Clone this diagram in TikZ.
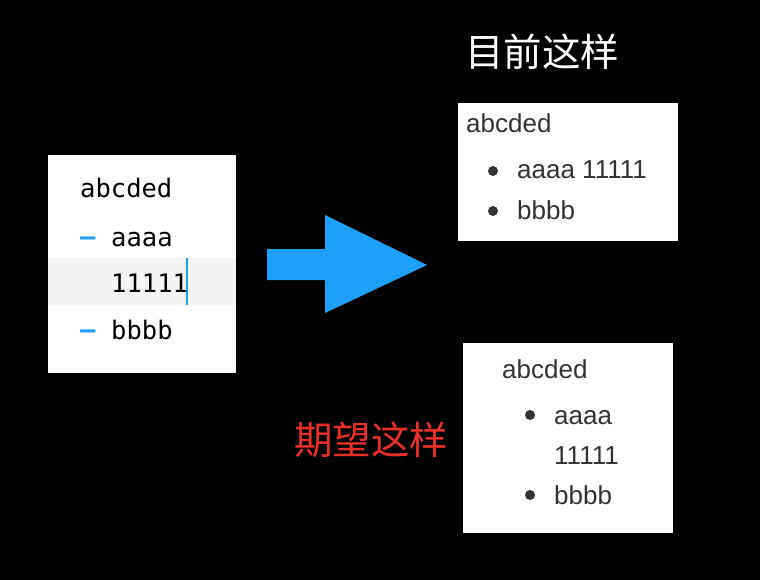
\documentclass[tikz,border=0pt]{standalone}
\usepackage{fontspec}
\setmainfont{Liberation Sans}
\setmonofont{DejaVu Sans Mono}
\newfontfamily\cjkfont{Noto Sans CJK SC}
\definecolor{arrowblue}{RGB}{30,160,250}
\definecolor{rowgray}{RGB}{245,245,245}
\definecolor{textgray}{RGB}{51,51,51}
\definecolor{wishred}{RGB}{232,48,42}
\tikzset{
  panel/.style={fill=white, draw=none},
  monotext/.style={anchor=base west, inner sep=0pt, font=\ttfamily\fontsize{25.5}{25.5}\selectfont, text=black},
  sanstext/.style={anchor=base west, inner sep=0pt, font=\fontsize{26}{26}\selectfont, text=textgray},
  dot/.style={fill=textgray, circle, inner sep=0pt, minimum size=10pt},
  title/.style={inner sep=0pt, font=\cjkfont\fontsize{38.5}{38.5}\selectfont}
}
\begin{document}
\begin{tikzpicture}[x=1pt,y=-1pt]
  \useasboundingbox[fill=black] (0,0) rectangle (760,580);

  % editor on the left
  \fill[panel] (48,155) rectangle (236,373);
  \fill[rowgray] (48,258) rectangle (236,305);
  \node[monotext] (edhead) at (80,198) {abcded};
  \node[monotext, text=arrowblue] (dasha) at (80,245) {\bfseries\textendash};
  \node[monotext] (edaaaa) at (111,246) {aaaa};
  \node[monotext] (edones) at (111,292) {11111};
  \node[monotext, text=arrowblue] (dashb) at (80,338) {\bfseries\textendash};
  \node[monotext] (edbbbb) at (111,339) {bbbb};
  \draw[arrowblue, line width=1.5pt] (187,258) -- (187,305);

  % big arrow
  \fill[arrowblue] (267,249) -- (325,249) -- (325,215) -- (427,265)
    -- (325,313) -- (325,280) -- (267,280) -- cycle;

  % what it does now
  \node[title, text=white] (nowtitle) at (542,52) {目前这样};
  \fill[panel] (458,103) rectangle (678,241);
  \node[sanstext] (nowhead) at (466,133) {abcded};
  \node[dot] (nowdota) at (493,171) {};
  \node[sanstext] (nowa) at (517,179) {aaaa 11111};
  \node[dot] (nowdotb) at (493,211) {};
  \node[sanstext] (nowb) at (517,219) {bbbb};

  % what it should do
  \node[title, text=wishred] (wishtitle) at (371,440) {期望这样};
  \fill[panel] (463,343) rectangle (673,533);
  \node[sanstext] (wishhead) at (502,378) {abcded};
  \node[dot] (wishdota) at (530,415) {};
  \node[sanstext] (wisha) at (554,424) {aaaa};
  \node[sanstext] (wishones) at (554,464) {11111};
  \node[dot] (wishdotb) at (530,495) {};
  \node[sanstext] (wishb) at (554,504) {bbbb};
\end{tikzpicture}
\end{document}
